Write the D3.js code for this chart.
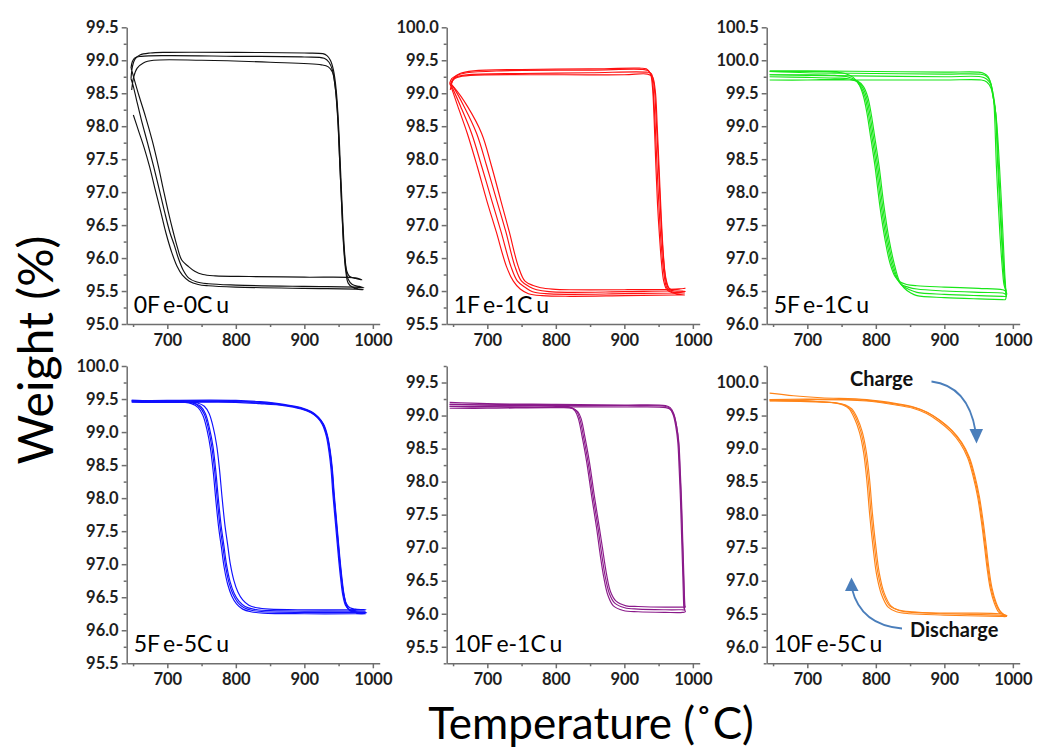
<!DOCTYPE html>
<html>
<head>
<meta charset="utf-8">
<script src="https://cdn.jsdelivr.net/npm/d3@7/dist/d3.min.js"></script>
<style>
body { margin: 0; background: #fff; }
</style>
</head>
<body>
<svg id="chart" width="1037" height="752"></svg>
<script>
// ---- data: each panel is a list of cycles, each cycle a list of [temperature, weight] ----
var cyclesFe0Cu0 = [
  [[648,98.55],[651,98.75],[656,98.88],[665,98.96],[680,99.0],[750,99.0],[850,98.97],[925,98.93],[935,98.9],[941,98.82],[945,98.6],[948.5,98.2],[951.5,97.5],[954.5,96.8],[957.5,96.2],[960.5,95.85],[964,95.68],[970,95.6],[980,95.57],[987,95.55],[975,95.56],[900,95.57],[800,95.59],[760,95.61],[742,95.64],[731,95.7],[723,95.82],[716,96.0],[710,96.2],[704,96.38],[696,96.7],[688,97.05],[680,97.39],[671,97.75],[662,98.1],[655,98.4],[650,98.62],[647,98.72]],
  [[647,98.72],[649,98.9],[653,99.02],[660,99.08],[675,99.11],[700,99.12],[800,99.12],[900,99.11],[927,99.1],[933,99.07],[938,99.0],[942.5,98.85],[946.5,98.55],[950,98.0],[953,97.3],[956,96.6],[959,96.05],[962,95.8],[966,95.72],[975,95.69],[984,95.67],[975,95.7],[900,95.71],[820,95.72],[770,95.73],[752,95.75],[740,95.8],[730,95.88],[721,95.97],[715,96.15],[709,96.38],[701,96.72],[694,97.05],[687,97.39],[678,97.78],[668,98.15],[659,98.45],[652,98.7],[648,98.85],[647,98.88]],
  [[647,98.88],[649,98.98],[653,99.04],[662,99.06],[700,99.07],[800,99.06],[900,99.05],[929,99.03],[936,98.97],[941,98.85],[945,98.6],[948.5,98.15],[951.5,97.5],[954.5,96.8],[957.5,96.15],[960.5,95.8],[964,95.62],[970,95.56],[980,95.53],[986,95.52],[975,95.53],[900,95.54],[800,95.56],[760,95.58],[745,95.6],[732,95.65],[722,95.74],[714,95.88],[706,96.1],[698,96.38],[690,96.72],[682,97.05],[674,97.39],[666,97.68],[658,97.93],[650.4,98.17]]
];
var cyclesFe1Cu1 = [
  [[646,99.05],[648,99.15],[652,99.24],[660,99.3],[680,99.34],[750,99.36],[850,99.37],[922,99.38],[932,99.37],[938,99.3],[941,99.1],[943.5,98.6],[946,97.9],[948.5,97.3],[951.5,96.8],[954.5,96.4],[957.5,96.15],[962,96.02],[971,95.97],[980,95.95],[988,95.94],[975,95.94],[900,95.93],[820,95.92],[780,95.93],[760,95.96],[748,96.03],[738,96.15],[728,96.37],[713,96.9],[699,97.38],[685,97.9],[670.8,98.39],[657,98.8],[647,99.1],[645,99.15]],
  [[645,99.15],[648,99.22],[655,99.27],[670,99.31],[720,99.34],[850,99.35],[927,99.36],[935,99.34],[940,99.25],[943,98.9],[946,98.3],[949,97.6],[952,97.0],[955,96.55],[958,96.25],[962,96.05],[969,95.99],[979,95.98],[988,95.97],[975,95.97],[900,95.96],[820,95.95],[785,95.96],[766,95.99],[756,96.05],[744,96.15],[734.5,96.37],[720,96.9],[706.3,97.38],[691.5,97.9],[677.1,98.39],[661,98.8],[648,99.1],[646,99.13]],
  [[646,99.13],[649,99.2],[655,99.25],[670,99.28],[750,99.3],[850,99.31],[932,99.32],[939,99.3],[943,99.15],[946,98.7],[949,98.1],[952,97.4],[955,96.8],[958,96.4],[961.5,96.15],[966,96.03],[974,96.0],[985,96.0],[989,95.99],[975,96.0],[900,95.99],[820,95.98],[790,95.99],[772,96.02],[762,96.06],[750,96.15],[740.4,96.37],[727,96.9],[713.6,97.38],[699,97.9],[684.4,98.39],[666,98.8],[650,99.1],[647,99.14]],
  [[647,99.14],[650,99.2],[656,99.24],[675,99.27],[800,99.28],[900,99.28],[934,99.29],[941,99.25],[945,99.05],[948,98.5],[951,97.8],[954,97.1],[957,96.55],[960,96.2],[964,96.05],[970,96.02],[980,96.03],[989,96.04],[975,96.03],[900,96.02],[820,96.02],[795,96.03],[778,96.05],[768,96.08],[755,96.15],[745.3,96.37],[732,96.9],[719.5,97.38],[706,97.9],[691.7,98.39],[671,98.8],[652,99.08],[648,99.12]]
];
var cyclesFe5Cu1 = [
  [[645,99.84],[700,99.84],[800,99.83],[900,99.82],[950,99.82],[958,99.8],[964,99.75],[969,99.6],[972,99.4],[976,98.39],[981,97.38],[985,96.8],[987,96.6],[989,96.53],[990,96.5],[985,96.52],[950,96.54],[900,96.56],[860,96.58],[845,96.6],[835,96.64],[828,96.72],[820.7,96.92],[813.4,97.28],[806,97.78],[798.8,98.39],[791.5,98.9],[787,99.2],[782,99.45],[776,99.62],[767,99.74],[755,99.8],[740,99.82],[700,99.83],[645,99.83]],
  [[645,99.83],[700,99.81],[800,99.8],[900,99.79],[952,99.79],[960,99.77],[966,99.7],[970,99.55],[974,99.3],[978,98.39],[983,97.38],[986.5,96.8],[988.5,96.6],[990,96.5],[991,96.45],[985,96.47],[950,96.48],[900,96.5],[860,96.53],[847,96.56],[837,96.6],[830,96.7],[822.7,96.92],[815.4,97.28],[808,97.78],[800.8,98.39],[793.5,98.9],[789,99.2],[784,99.45],[778,99.6],[770,99.7],[758,99.75],[740,99.77],[700,99.78],[645,99.78]],
  [[645,99.78],[700,99.77],[800,99.76],[900,99.75],[953,99.75],[961,99.72],[967,99.65],[971,99.45],[975,99.2],[979,98.39],[984,97.38],[987,96.8],[989,96.55],[990,96.45],[990.5,96.42],[985,96.42],[950,96.43],[900,96.45],[860,96.48],[849,96.52],[839,96.58],[832,96.68],[824.7,96.92],[817.4,97.28],[810,97.78],[802.8,98.39],[795.5,98.9],[791,99.2],[786,99.45],[780,99.6],[772,99.68],[760,99.72],[740,99.73],[700,99.74],[645,99.75]],
  [[645,99.7],[700,99.7],[800,99.7],[900,99.7],[954,99.7],[962,99.67],[968,99.58],[972,99.4],[976,99.1],[980.5,98.39],[985.5,97.38],[988,96.8],[989.5,96.55],[990,96.4],[989,96.37],[985,96.37],[950,96.38],[900,96.4],[860,96.43],[851,96.47],[841,96.55],[834,96.66],[826.7,96.92],[819.4,97.28],[812,97.78],[804.8,98.39],[797.5,98.9],[793,99.2],[788,99.45],[782,99.6],[774,99.68],[762,99.7],[740,99.71],[700,99.7],[645,99.7]]
];
var cyclesFe5Cu5 = [
  [[648,99.47],[700,99.48],[800,99.48],[835,99.46],[870,99.42],[895,99.37],[910,99.31],[920,99.23],[927,99.13],[933,98.95],[937,98.72],[940,98.45],[942.5,98.1],[945,97.8],[948,97.45],[951,97.1],[954,96.8],[957,96.55],[961,96.38],[966,96.3],[975,96.27],[990,96.25],[975,96.25],[900,96.25],[840,96.26],[822,96.28],[810,96.32],[801,96.4],[794,96.52],[788,96.7],[783,96.95],[779,97.25],[775,97.55],[771,97.95],[767,98.4],[763,98.75],[758,99.03],[752,99.25],[745,99.37],[735,99.43],[700,99.46],[648,99.48]],
  [[648,99.48],[700,99.47],[800,99.47],[836,99.45],[871,99.41],[896,99.36],[911,99.3],[921,99.22],[928,99.12],[934,98.94],[938,98.7],[941,98.43],[943.5,98.08],[946,97.78],[949,97.43],[952,97.08],[955,96.78],[958,96.54],[962,96.37],[967,96.3],[976,96.28],[991,96.27],[975,96.27],[900,96.27],[842,96.28],[824,96.3],[812,96.34],[803,96.42],[796,96.54],[790,96.72],[785,96.97],[781,97.27],[777,97.57],[773,97.97],[769,98.42],[765,98.77],[760,99.05],[754,99.27],[747,99.38],[737,99.44],[700,99.46],[648,99.47]],
  [[648,99.47],[700,99.46],[800,99.46],[834,99.44],[869,99.41],[894,99.36],[909,99.3],[919,99.22],[926,99.12],[932,98.94],[936,98.7],[939,98.43],[941.5,98.08],[944,97.78],[947,97.43],[950,97.08],[953,96.78],[956,96.54],[960,96.38],[965,96.32],[974,96.3],[989,96.29],[975,96.29],[900,96.29],[843.5,96.3],[825.5,96.32],[813.5,96.36],[804.5,96.44],[797.5,96.56],[791.5,96.74],[786.5,96.99],[782.5,97.29],[778.5,97.59],[774.5,97.99],[770.5,98.44],[766.5,98.79],[761.5,99.06],[755.5,99.28],[748.5,99.39],[738.5,99.44],[700,99.45],[648,99.46]],
  [[648,99.46],[700,99.45],[800,99.45],[835,99.43],[870,99.4],[895,99.35],[910.5,99.29],[920.5,99.21],[927.5,99.11],[933.5,98.93],[937.5,98.7],[940.5,98.43],[943,98.08],[945.5,97.78],[948.5,97.43],[951.5,97.08],[954.5,96.78],[957.5,96.55],[961.5,96.4],[966.5,96.34],[975,96.32],[990,96.31],[975,96.31],[900,96.31],[849,96.32],[831,96.34],[819,96.38],[810,96.46],[803,96.58],[797,96.76],[792,97.0],[788,97.3],[784,97.6],[780,98.0],[776,98.45],[772,98.8],[767,99.07],[761,99.28],[754,99.39],[744,99.44],[700,99.45],[648,99.45]]
];
var cyclesFe10Cu1 = [
  [[645,99.2],[700,99.18],[800,99.17],[900,99.16],[960,99.15],[967,99.12],[972,99.03],[976,98.85],[979,98.6],[981,98.2],[983,97.7],[984.5,97.2],[986,96.7],[987,96.35],[987.5,96.15],[988,96.06],[989,96.03],[985,96.02],[960,96.02],[920,96.03],[898.5,96.05],[884,96.12],[876,96.28],[870,96.55],[864,96.95],[859.6,97.29],[852,97.8],[845,98.3],[838,98.7],[833,98.95],[828,99.07],[820,99.13],[800,99.15],[700,99.16],[645,99.17]],
  [[645,99.17],[700,99.16],[800,99.15],[900,99.15],[959,99.14],[966,99.11],[971,99.02],[975,98.84],[978,98.6],[980,98.2],[982,97.7],[983.5,97.2],[985,96.7],[986,96.35],[986.5,96.17],[987,96.09],[988,96.06],[984,96.06],[960,96.06],[920,96.07],[900.5,96.09],[886,96.16],[878,96.31],[872,96.57],[866,96.97],[861.6,97.3],[854,97.8],[847,98.3],[840,98.7],[835,98.95],[830,99.07],[822,99.12],[800,99.14],[700,99.14],[645,99.14]],
  [[645,99.14],[700,99.13],[800,99.13],[900,99.13],[960.5,99.12],[967.5,99.09],[972.5,99.0],[976.5,98.83],[979.5,98.6],[981.5,98.2],[983.5,97.7],[985,97.2],[986.5,96.7],[987.5,96.35],[988,96.2],[988.5,96.12],[989,96.1],[985,96.1],[960,96.1],[920,96.11],[902.5,96.12],[888,96.19],[880,96.33],[874,96.6],[868,97.0],[863.6,97.3],[856,97.8],[849,98.3],[842,98.7],[837,98.95],[832,99.06],[824,99.11],[800,99.12],[700,99.11],[645,99.11]]
];
var cyclesFe10Cu5 = [
  [[645,99.84],[680,99.8],[720,99.77],[786.6,99.74],[830,99.68],[855,99.63],[875,99.55],[893,99.43],[910,99.28],[924,99.1],[935,98.88],[943,98.6],[949.6,98.29],[955,97.92],[959.5,97.55],[963.5,97.2],[968,96.9],[974,96.68],[980,96.55],[986,96.49],[991,96.46],[980,96.46],[900,96.48],[850,96.5],[830,96.53],[818,96.6],[808,96.8],[801,97.1],[796,97.5],[791,98.0],[787,98.5],[782,98.95],[776,99.25],[769,99.45],[761,99.6],[752,99.66],[740,99.69],[700,99.72],[645,99.74]],
  [[645,99.74],[700,99.75],[786.6,99.73],[831.5,99.67],[856.5,99.62],[876.5,99.54],[894.5,99.42],[911.5,99.27],[925.5,99.09],[936.5,98.87],[944.5,98.59],[951,98.28],[956.5,97.91],[961,97.54],[965,97.19],[969.5,96.89],[975.5,96.67],[981.5,96.54],[987,96.49],[991.5,96.47],[980,96.48],[900,96.5],[854,96.52],[834,96.55],[822,96.62],[812,96.82],[805,97.12],[800,97.52],[795,98.02],[791,98.52],[786,98.96],[780,99.26],[773,99.46],[765,99.6],[756,99.66],[744,99.69],[700,99.71],[645,99.72]],
  [[645,99.72],[700,99.74],[786.6,99.72],[829,99.66],[854,99.61],[874,99.53],[892,99.41],[909,99.26],[923,99.08],[934,98.86],[942,98.58],[948.6,98.27],[954,97.9],[958.5,97.53],[962.5,97.18],[967,96.88],[973,96.66],[979,96.53],[985,96.49],[990,96.47],[980,96.5],[900,96.51],[852,96.53],[832,96.56],[820,96.62],[810,96.82],[803,97.12],[798,97.52],[793,98.02],[789,98.52],[784,98.96],[778,99.26],[771,99.46],[763,99.6],[754,99.66],[742,99.69],[700,99.72],[645,99.73]]
];

var panelData = [cyclesFe0Cu0, cyclesFe1Cu1, cyclesFe5Cu1, cyclesFe5Cu5, cyclesFe10Cu1, cyclesFe10Cu5];
var panelLabels = [["0F","e-0C","u"],["1F","e-1C","u"],["5F","e-1C","u"],["5F","e-5C","u"],["10F","e-1C","u"],["10F","e-5C","u"]];
var panelColors = ["#111111","#ff1010","#19e619","#1010ff","#8a1a8a","#ff8418"];
var yDomains = [[95,99.5],[95.5,100],[96,100.5],[95.5,100],[95.25,99.75],[95.75,100.25]];
var xDomain = [640.7,1010];
var xTicks = [700,800,900,1000];
var xMinorTicks = [650,750,850,950];

// ---- layout ----
var width = 1037, height = 752;
var colX = [126.7, 446.7, 766.7];
var rowY = [[27.3, 324], [366, 663.3]];
var plotW = 253;
var axisColor = "#6e6e6e", textColor = "#1e1e1e";
var font = "Lato, 'Liberation Sans', sans-serif";

var svg = d3.select("#chart");
svg.append("rect").attr("width", width).attr("height", height).attr("fill", "#fff");

var line = d3.line().curve(d3.curveCatmullRom.alpha(0.5));

panelData.forEach(function(cycles, i) {
  var c = i % 3, r = Math.floor(i / 3);
  var x = d3.scaleLinear().domain(xDomain).range([colX[c], colX[c] + plotW]);
  var y = d3.scaleLinear().domain(yDomains[i]).range([rowY[r][1], rowY[r][0]]);
  line.x(function(d) { return x(d[0]); }).y(function(d) { return y(d[1]); });

  var g = svg.append("g");

  // curves
  g.append("g").selectAll("path")
    .data(cycles)
    .enter()
    .append("path")
    .attr("d", line)
    .attr("fill", "none")
    .attr("stroke", panelColors[i])
    .attr("stroke-width", 1.15)
    .attr("stroke-linejoin", "round");

  // y ticks: labelled every 0.5, minor every 0.25
  var lo = yDomains[i][0], hi = yDomains[i][1];
  var major = d3.range(Math.ceil(lo / 0.5) * 0.5, hi + 0.001, 0.5);
  var minor = d3.range(Math.ceil(lo / 0.25) * 0.25, hi + 0.001, 0.25).filter(function(v) { return Math.abs(v / 0.5 - Math.round(v / 0.5)) > 0.01; });

  g.append("g").attr("transform", "translate(" + colX[c] + ",0)")
    .call(d3.axisLeft(y).tickValues(major).tickSize(5).tickSizeOuter(0).tickPadding(3).tickFormat(d3.format(".1f")));
  g.append("g").attr("transform", "translate(" + colX[c] + ",0)")
    .call(d3.axisLeft(y).tickValues(minor).tickSize(3).tickSizeOuter(0).tickFormat(""))
    .select(".domain").remove();

  g.append("g").attr("transform", "translate(0," + rowY[r][1] + ")")
    .call(d3.axisBottom(x).tickValues(xTicks).tickSize(5).tickSizeOuter(0).tickPadding(5).tickFormat(d3.format("d")));
  g.append("g").attr("transform", "translate(0," + rowY[r][1] + ")")
    .call(d3.axisBottom(x).tickValues(xMinorTicks).tickSize(3).tickSizeOuter(0).tickFormat(""))
    .select(".domain").remove();

  g.selectAll(".domain, .tick line").attr("stroke", axisColor).attr("stroke-width", 1.5);
  g.selectAll(".tick text")
    .attr("fill", textColor)
    .style("font-family", font)
    .style("font-weight", "bold")
    .style("font-size", "16.5px");

  // panel label
  var lab = g.append("text")
    .attr("x", colX[c] + 7)
    .attr("y", rowY[r][1] - 11.5)
    .attr("fill", "#000")
    .style("font-family", font)
    .style("font-size", "23px");
  panelLabels[i].forEach(function(part, k) {
    lab.append("tspan").attr("dx", k === 0 ? 0 : 4).text(part);
  });
});

// axis titles
svg.append("text")
  .attr("transform", "translate(53,350) rotate(-90)")
  .attr("text-anchor", "middle")
  .attr("fill", "#000")
  .style("font-family", font)
  .style("font-size", "48px")
  .text("Weight (%)");

svg.append("text")
  .attr("x", 591)
  .attr("y", 739)
  .attr("text-anchor", "middle")
  .attr("fill", "#000")
  .style("font-family", font)
  .style("font-size", "44px")
  .text("Temperature (\u02DAC)");

// charge / discharge annotations in the last panel
var arrowBlue = "#4a7ebb";
svg.append("text")
  .attr("x", 850).attr("y", 386)
  .attr("fill", "#111")
  .style("font-family", font)
  .style("font-weight", "bold")
  .style("font-size", "20px")
  .text("Charge");
svg.append("path")
  .attr("d", "M931.5,381.5 Q968,386 975.5,431")
  .attr("fill", "none").attr("stroke", arrowBlue).attr("stroke-width", 1.8);
svg.append("path")
  .attr("d", "M969.5,429 L983,429 L976.5,443.5 Z")
  .attr("fill", arrowBlue);

svg.append("text")
  .attr("x", 910).attr("y", 637)
  .attr("fill", "#111")
  .style("font-family", font)
  .style("font-weight", "bold")
  .style("font-size", "20px")
  .text("Discharge");
svg.append("path")
  .attr("d", "M902,628.5 Q861,625 852,589")
  .attr("fill", "none").attr("stroke", arrowBlue).attr("stroke-width", 1.8);
svg.append("path")
  .attr("d", "M845,591 L858.5,591 L851.5,577.5 Z")
  .attr("fill", arrowBlue);
</script>
</body>
</html>
